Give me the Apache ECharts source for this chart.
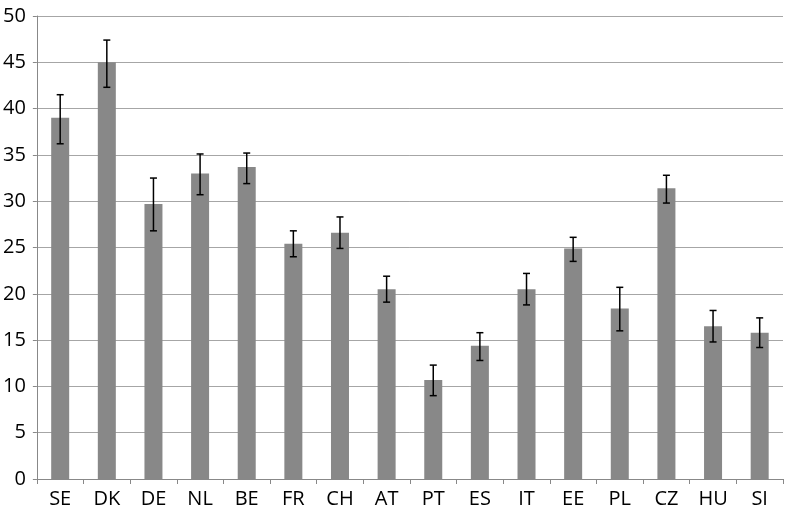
<!DOCTYPE html>
<html>
<head>
<meta charset="utf-8">
<script src="https://cdn.jsdelivr.net/npm/echarts@6/dist/echarts.min.js"></script>
<style>html,body{margin:0;padding:0;background:#fff}#c{width:786px;height:516px}</style>
</head>
<body>
<div id="c"></div>
<script>
const categories = ['SE','DK','DE','NL','BE','FR','CH','AT','PT','ES','IT','EE','PL','CZ','HU','SI'];
const values     = [39.0, 45.0, 29.7, 33.0, 33.7, 25.4, 26.6, 20.5, 10.7, 14.4, 20.5, 24.9, 18.4, 31.4, 16.5, 15.8];
const errLow     = [36.2, 42.3, 26.8, 30.7, 31.9, 24.0, 24.9, 19.1,  9.0, 12.8, 18.8, 23.5, 16.0, 29.8, 14.8, 14.2];
const errHigh    = [41.5, 47.4, 32.5, 35.1, 35.2, 26.8, 28.3, 21.9, 12.3, 15.8, 22.2, 26.1, 20.7, 32.8, 18.2, 17.4];
const yTicks = {min: 0, max: 50, interval: 5};

const errData = categories.map((c, i) => [i, errLow[i], errHigh[i]]);
const font = 'Open Sans';

const chart = echarts.init(document.getElementById('c'), null, {renderer: 'canvas'});
chart.setOption({
  animation: false,
  backgroundColor: '#ffffff',
  grid: {left: 35, right: 3, top: 16, bottom: 37},
  xAxis: {
    type: 'category',
    data: categories,
    axisLine: {lineStyle: {color: '#888888', width: 1}},
    axisTick: {show: true, alignWithLabel: false, length: 5, lineStyle: {color: '#888888'}},
    axisLabel: {color: '#000000', fontFamily: font, fontSize: 20, margin: 10, interval: 0}
  },
  yAxis: {
    type: 'value',
    min: yTicks.min, max: yTicks.max, interval: yTicks.interval,
    axisLine: {show: true, lineStyle: {color: '#888888', width: 1}},
    axisTick: {show: true, length: 4, lineStyle: {color: '#888888'}},
    splitLine: {lineStyle: {color: '#a6a6a6', width: 1}},
    axisLabel: {color: '#000000', fontFamily: font, fontSize: 20, margin: 11}
  },
  series: [
    {
      type: 'bar',
      data: values,
      barWidth: 18,
      itemStyle: {color: '#888888'}
    },
    {
      type: 'custom',
      data: errData,
      z: 10,
      renderItem: function (params, api) {
        const x = api.value(0);
        const lo = api.coord([x, api.value(1)]);
        const hi = api.coord([x, api.value(2)]);
        const hw = 3.5;
        const style = {stroke: '#000000', lineWidth: 1.5};
        return {
          type: 'group',
          children: [
            {type: 'line', shape: {x1: lo[0], y1: lo[1], x2: hi[0], y2: hi[1]}, style: style},
            {type: 'line', shape: {x1: lo[0] - hw, y1: lo[1], x2: lo[0] + hw, y2: lo[1]}, style: style},
            {type: 'line', shape: {x1: hi[0] - hw, y1: hi[1], x2: hi[0] + hw, y2: hi[1]}, style: style}
          ]
        };
      }
    }
  ]
});
</script>
</body>
</html>
